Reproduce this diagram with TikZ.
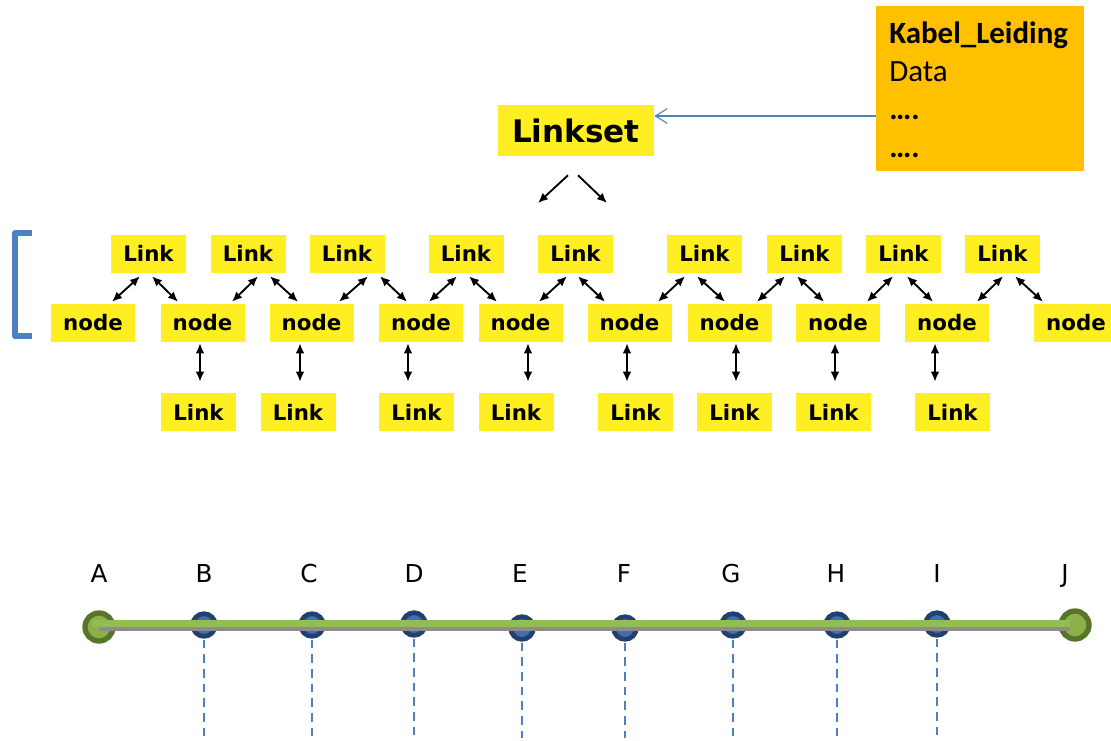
\documentclass[tikz,border=0pt]{standalone}
\usepackage{fontspec}
\setmainfont{DejaVu Sans}
\newfontfamily\calfont{Carlito}
\usetikzlibrary{arrows.meta,calc}
\definecolor{ylw}{HTML}{FFEE22}
\definecolor{org}{HTML}{FFC000}
\definecolor{lblue}{HTML}{4F81BD}
\definecolor{dblue}{HTML}{22406E}
\definecolor{mblue}{HTML}{3E6FB0}
\definecolor{dgreen}{HTML}{56752A}
\definecolor{lgreen}{HTML}{8DB04A}
\definecolor{bgreen}{HTML}{92BD55}
\definecolor{gry}{HTML}{8C8C8C}
\begin{document}
\begin{tikzpicture}[x=0.75pt,y=-0.75pt,
  linkbox/.style={fill=ylw, minimum width=56.25pt, minimum height=28.5pt, inner sep=0pt, font=\bfseries\fontsize{16}{18}\selectfont},
  nodebox/.style={linkbox, minimum width=63pt},
  dbl/.style={{Latex[length=7.5pt,width=6.5pt]}-{Latex[length=7.5pt,width=6.5pt]}, line width=1.4pt},
  sgl/.style={-{Latex[length=7.5pt,width=6.5pt]}, line width=1.4pt},
  endpt/.style={circle, draw=dgreen, fill=lgreen, line width=4pt, minimum size=21pt, inner sep=0pt},
  midpt/.style={circle, draw=dblue, fill=mblue, line width=3.5pt, minimum size=17pt, inner sep=0pt},
  ptlabel/.style={font=\fontsize{18.5}{20}\selectfont, inner sep=0pt, anchor=base},
  dashline/.style={draw=lblue, line width=1.9pt, dash pattern=on 6.5pt off 4.5pt},
  kabeltext/.style={anchor=base west, inner sep=0pt, font=\calfont\fontsize{23.2}{26}\selectfont}
]
\useasboundingbox (0,0) rectangle (1111,740);

% Kabel box and Linkset
\node[fill=org, minimum width=156pt, minimum height=123.75pt, inner sep=0pt] (kabel) at (980,88.5) {};
\node[kabeltext] (k1) at (889,43) {\bfseries Kabel\_Leiding};
\node[kabeltext] (k2) at (889,81) {Data};
\node[kabeltext] (k3) at (889,119) {\bfseries ….};
\node[kabeltext] (k4) at (889,157) {\bfseries ….};
\node[fill=ylw, minimum width=117pt, minimum height=38.25pt, inner sep=0pt, font=\bfseries\fontsize{23.3}{26}\selectfont] (linkset) at (576,130.5) {Linkset};
\draw[lblue, line width=0.8pt, -{Straight Barb[length=9pt,width=11pt]}] ($(kabel.west)+(0,27.5)$) -- ($(linkset.east)+(0,-14.5)$);
\coordinate (ls1) at (538,203);
\coordinate (ls2) at (607,203);
\draw[sgl] ($(linkset.south)+(-8,19)$) -- (ls1);
\draw[sgl] ($(linkset.south)+(2,19)$) -- (ls2);

% bracket
\draw[lblue, line width=4.5pt, line join=round] (32,233) -- (15,233) -- (15,336) -- (32,336);

% top links
\foreach \i/\x in {1/148.5,2/248,3/347,4/466,5/575.5,6/704.5,7/804.5,8/903.5,9/1002.5}
  \node[linkbox] (t\i) at (\x,253.5) {Link};
% nodes
\foreach \i/\x in {1/93,2/202.5,3/311.5,4/421,5/520.5,6/629.5,7/729.5,8/838,9/947,10/1076}
  \node[nodebox] (n\i) at (\x,322.5) {node};
% bottom links
\foreach \i/\x in {1/198.5,2/298,3/416.5,4/516,5/635.5,6/734.5,7/833.5,8/952.5}
  \node[linkbox] (b\i) at (\x,412) {Link};

% diagonal arrows
\foreach \t/\a/\na/\ea/\b/\nb/\eb in {
  1/-8.5/1/19/3.5/2/-24.5,
  2/10/2/29.5/22/3/-13.5,
  3/21/3/27.5/33/4/-14,
  4/-9/4/8/3/5/-23.5,
  5/-8.5/5/18.5/2.5/6/-24.5,
  6/-19.5/6/28.5/-7.5/7/-4.5,
  7/-19.5/7/27.5/-7.5/8/-14,
  8/-10.5/8/29/3.5/9/-14,
  9/0.5/9/30/12.5/10/-33}{
  \draw[dbl] ($(t\t.south)+(\a,3.5)$) -- ($(n\na.north)+(\ea,-1.5)$);
  \draw[dbl] ($(t\t.south)+(\b,3.5)$) -- ($(n\nb.north)+(\eb,-1.5)$);
}

% vertical arrows
\foreach \k/\x in {1/200,2/300,3/408,4/528,5/627,6/736,7/835,8/935}{
  \pgfmathtruncatemacro{\nn}{\k+1}
  \coordinate (v\k) at (\x,0);
  \draw[dbl] ($(v\k |- n\nn.south)+(0,1.5)$) -- ($(v\k |- b\k.north)+(0,-11)$);
}

% bottom line diagram
\coordinate (bot) at (0,738);
\foreach \n/\x/\y in {B/204/625,C/312/625,D/414/624,E/522/628,F/625/628,G/733/625,H/837/625,I/937/624}{
  \coordinate (c\n) at (\x,\y);
  \draw[dashline] (c\n) -- (c\n |- bot);
}
\node[endpt] (pA) at (99,627) {};
\node[endpt] (pJ) at (1075,625) {};
\foreach \n in {B,C,D,E,F,G,H,I}
  \node[midpt] (p\n) at (c\n) {};
\draw[gry, line width=3pt] ($(pA.center)+(0,2)$) -- ($(pJ.center)+(-5,4)$);
\draw[bgreen, line width=5.25pt] ($(pA.center)+(-6,-3.5)$) -- ($(pJ.center)+(-5,-1.5)$);
\foreach \n/\x in {A/99,B/204,C/309,D/414,E/520,F/624,G/731,H/836,I/937,J/1065}
  \node[ptlabel] (l\n) at (\x,582) {\n};
\end{tikzpicture}
\end{document}
